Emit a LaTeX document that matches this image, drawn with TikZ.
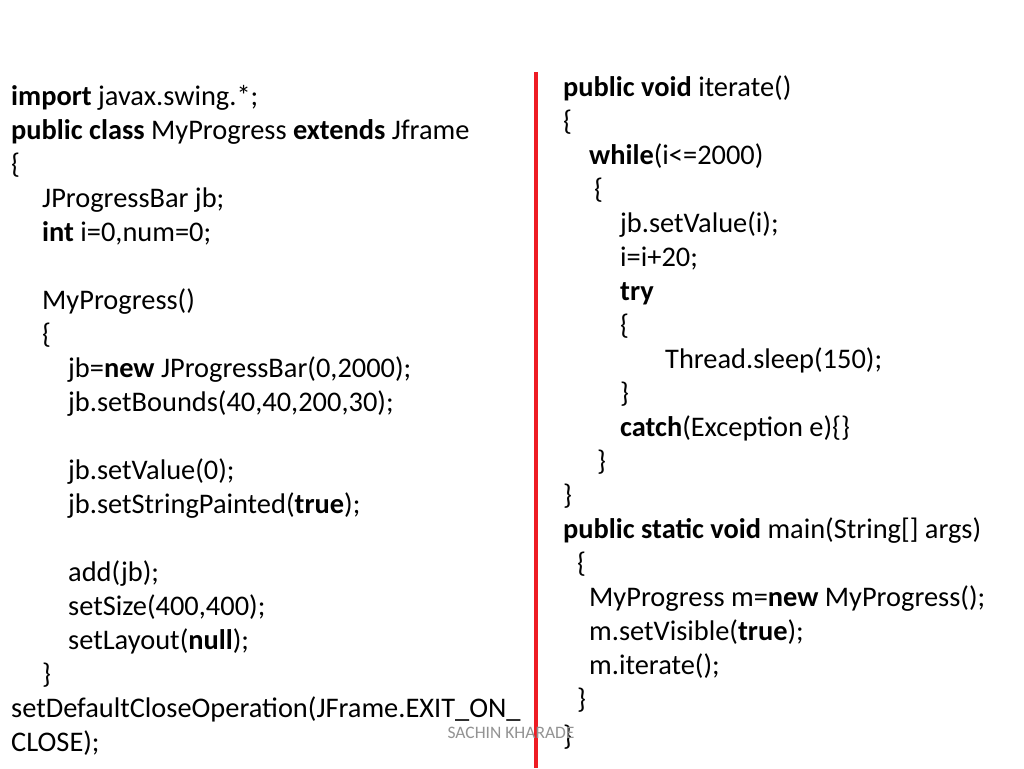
\documentclass[tikz,border=0pt]{standalone}
\usepackage{fontspec}
\setmainfont{Carlito}
\begin{document}
\begin{tikzpicture}[x=1pt,y=-1pt,
  code/.style={anchor=base west,inner sep=0pt,font=\fontsize{28.4}{34}\selectfont},
  sig/.style={anchor=center,inner sep=0pt,text=gray!85,font=\fontsize{17.5}{20}\selectfont}]
\useasboundingbox[fill=white] (0,0) rectangle (1024,768);
\def\kw#1{\textbf{#1}}
% left column
\node[code] (l1) at (11,105) {\kw{import} javax.swing.*;};
\node[code] (l2) at (11,139) {\kw{public class} MyProgress \kw{extends} Jframe};
\node[code] (l3) at (11,173) {\{};
\node[code] (l4) at (42,207) {JProgressBar jb;};
\node[code] (l5) at (42,241) {\kw{int} i=0,num=0;};
\node[code] (l6) at (42,309) {MyProgress()};
\node[code] (l7) at (42,343) {\{};
\node[code] (l8) at (68,377) {jb=\kw{new} JProgressBar(0,2000);};
\node[code] (l9) at (68,411) {jb.setBounds(40,40,200,30);};
\node[code] (l10) at (68,479) {jb.setValue(0);};
\node[code] (l11) at (68,513) {jb.setStringPainted(\kw{true});};
\node[code] (l12) at (68,581) {add(jb);};
\node[code] (l13) at (68,615) {setSize(400,400);};
\node[code] (l14) at (68,649) {setLayout(\kw{null});};
\node[code] (l15) at (42,683) {\}};
\node[code] (l16) at (11,717) {setDefaultCloseOperation(JFrame.EXIT\_ON\_};
\node[code] (l17) at (11,751) {CLOSE);};
% divider
\draw[line width=3.5pt,color={rgb,255:red,238;green,28;blue,36}] (536,72) coordinate (dtop) -- (536,768) coordinate (dbot);
% right column
\node[code] (r1) at (563,96) {\kw{public void} iterate()};
\node[code] (r2) at (563,130) {\{};
\node[code] (r3) at (589,164) {\kw{while}(i<=2000)};
\node[code] (r4) at (594,198) {\{};
\node[code] (r5) at (620,232) {jb.setValue(i);};
\node[code] (r6) at (620,266) {i=i+20;};
\node[code] (r7) at (620,300) {\kw{try}};
\node[code] (r8) at (620,334) {\{};
\node[code] (r9) at (665,368) {Thread.sleep(150);};
\node[code] (r10) at (620,402) {\}};
\node[code] (r11) at (620,436) {\kw{catch}(Exception e)\{\}};
\node[code] (r12) at (597,470) {\}};
\node[code] (r13) at (563,504) {\}};
\node[code] (r14) at (563,538) {\kw{public static void} main(String[] args)};
\node[code] (r15) at (577,572) {\{};
\node[code] (r16) at (589,606) {MyProgress m=\kw{new} MyProgress();};
\node[code] (r17) at (589,640) {m.setVisible(\kw{true});};
\node[code] (r18) at (589,674) {m.iterate();};
\node[code] (r19) at (577,708) {\}};
\node[code] (r20) at (563,745) {\}};
\node[sig] (s) at (511,733) {SACHIN KHARADE};
\end{tikzpicture}
\end{document}
